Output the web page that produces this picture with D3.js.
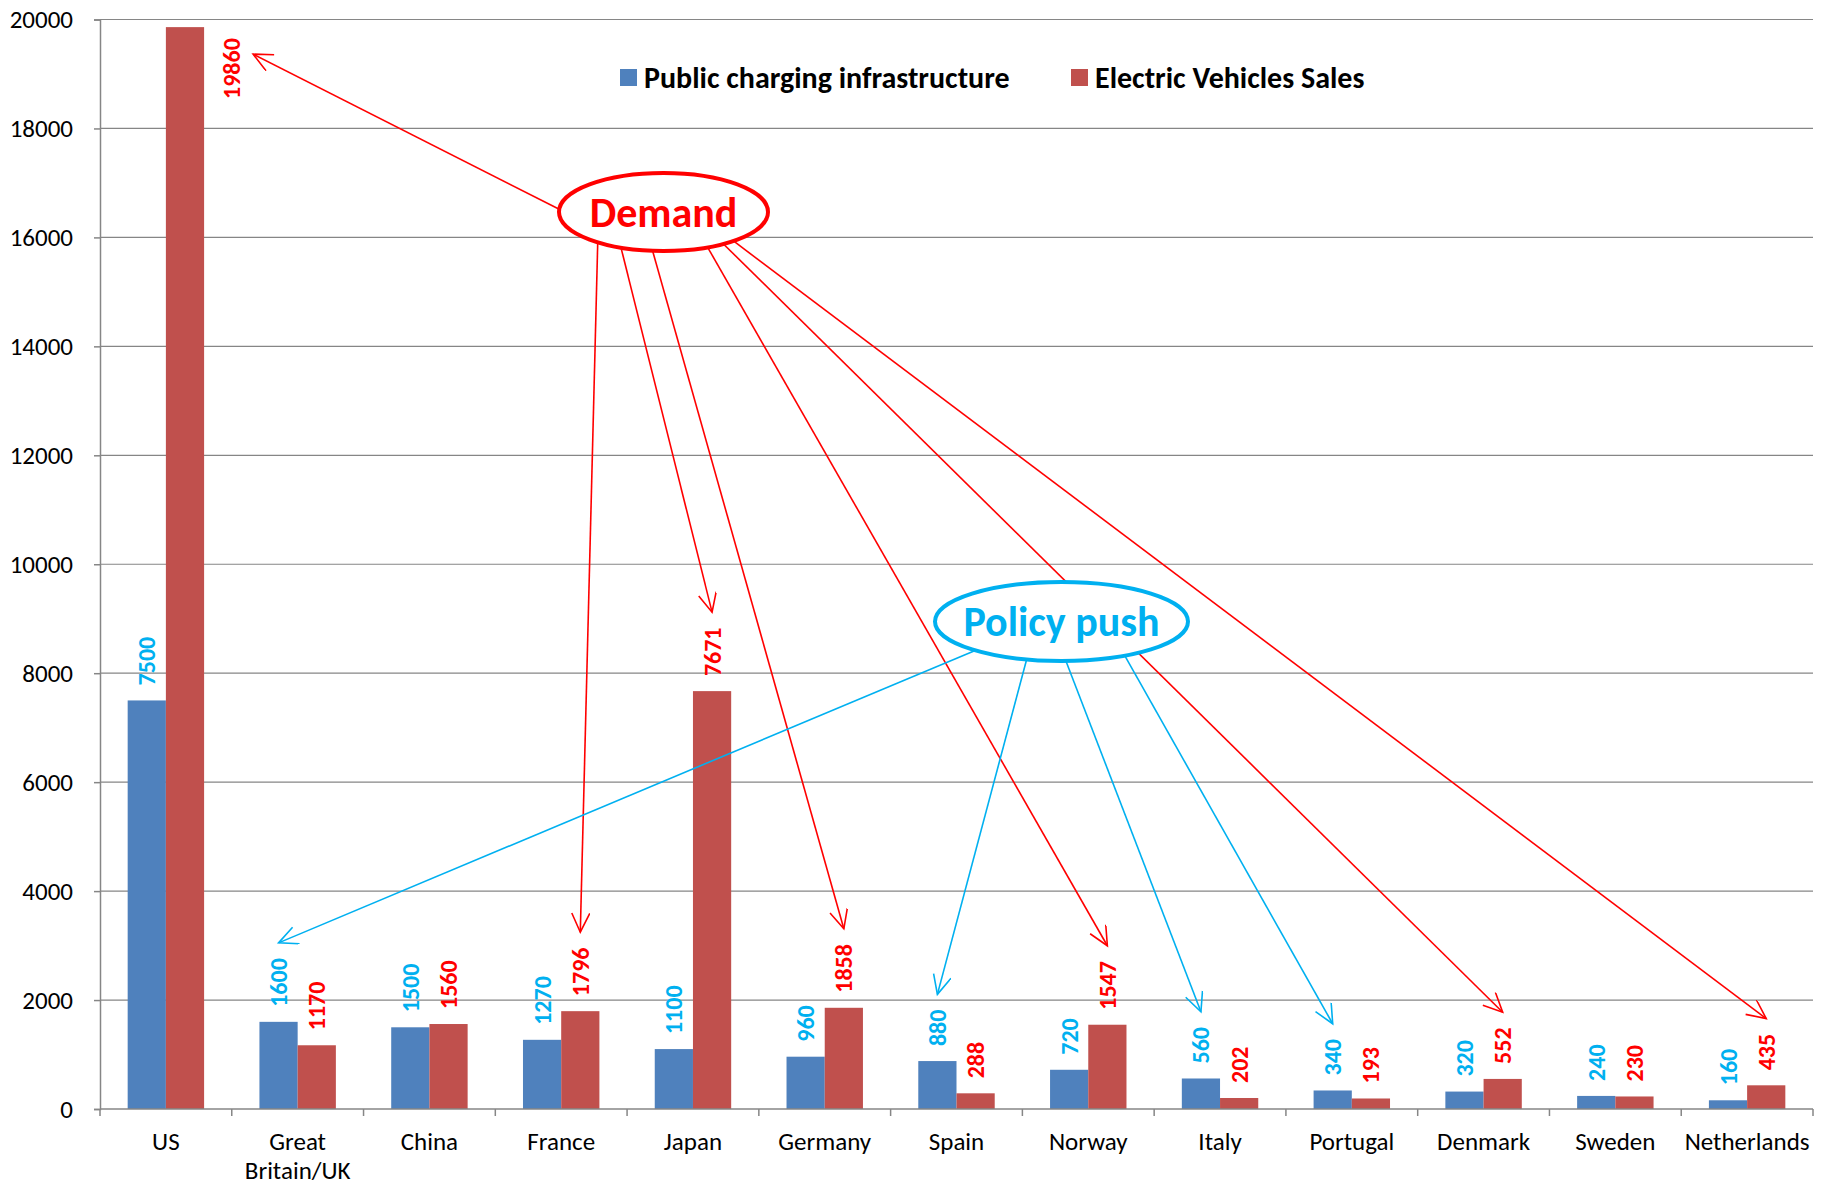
<!DOCTYPE html>
<html>
<head>
<meta charset="utf-8">
<script src="https://cdn.jsdelivr.net/npm/d3@7"></script>
<style>
  body { margin: 0; background: #fff; }
  svg { font-family: Carlito, Calibri, "Open Sans", sans-serif; }
</style>
</head>
<body>
<div id="chart"></div>
<script>
// data
const countries = ["US", "Great Britain/UK", "China", "France", "Japan", "Germany", "Spain",
  "Norway", "Italy", "Portugal", "Denmark", "Sweden", "Netherlands"];
const charging = [7500, 1600, 1500, 1270, 1100, 960, 880, 720, 560, 340, 320, 240, 160];
const evSales = [19860, 1170, 1560, 1796, 7671, 1858, 288, 1547, 202, 193, 552, 230, 435];
const seriesNames = ["Public charging infrastructure", "Electric Vehicles Sales"];
const yTicks = [0, 2000, 4000, 6000, 8000, 10000, 12000, 14000, 16000, 18000, 20000];

// callouts
const demandTargets = ["US", "France", "Japan", "Germany", "Norway", "Denmark", "Netherlands"];
const demandAngles = [184, 129, 114, 96, 65, 55, 48];
const policyTargets = ["Great Britain/UK", "Spain", "Italy", "Portugal"];
const policyAngles = [133, 106, 88, 60];

const width = 1822;
const height = 1185;
const margin = { top: 19.5, right: 9, bottom: 76, left: 100 };

const barColors = ["#4F81BD", "#C0504D"];
const labelColors = ["#00B0F0", "#FF0000"];
const gridColor = "#868686";

const svg = d3.select("#chart")
  .append("svg")
    .attr("width", width)
    .attr("height", height);

const x = d3.scaleBand()
  .domain(countries)
  .range([margin.left, width - margin.right])
  .paddingInner(0.42)
  .paddingOuter(0.21);

const x1 = d3.scaleBand()
  .domain([0, 1])
  .range([0, x.bandwidth()]);

const y = d3.scaleLinear()
  .domain([0, 20000])
  .range([height - margin.bottom, margin.top]);

// gridlines
svg.append("g")
  .selectAll("line")
  .data(yTicks.filter(d => d > 0))
  .join("line")
    .attr("x1", margin.left)
    .attr("x2", width - margin.right)
    .attr("y1", d => y(d))
    .attr("y2", d => y(d))
    .attr("stroke", gridColor)
    .attr("stroke-width", 1.2);

// y axis
const yAxis = svg.append("g")
  .attr("transform", `translate(${margin.left},0)`)
  .call(d3.axisLeft(y).tickValues(yTicks).tickFormat(d3.format("d")).tickSize(6).tickPadding(21));
yAxis.select(".domain").attr("stroke", gridColor).attr("stroke-width", 1.5);
yAxis.selectAll(".tick line").attr("stroke", gridColor).attr("stroke-width", 1.5);
yAxis.selectAll(".tick text")
  .attr("font-size", 25)
  .attr("font-family", "Carlito, Calibri, 'Open Sans', sans-serif")
  .attr("fill", "#000");

// bars
const rows = countries.map((c, i) => ({ country: c, values: [charging[i], evSales[i]] }));

const groups = svg.append("g")
  .selectAll("g")
  .data(rows)
  .join("g")
    .attr("transform", d => `translate(${x(d.country)},0)`);

groups.selectAll("rect")
  .data(d => d.values.map((v, s) => ({ v, s })))
  .join("rect")
    .attr("x", d => x1(d.s))
    .attr("y", d => y(d.v))
    .attr("width", x1.bandwidth())
    .attr("height", d => y(0) - y(d.v))
    .attr("fill", d => barColors[d.s]);

// x axis
const step = x.step();
const axisY = y(0);
svg.append("line")
  .attr("x1", margin.left)
  .attr("x2", width - margin.right)
  .attr("y1", axisY)
  .attr("y2", axisY)
  .attr("stroke", gridColor)
  .attr("stroke-width", 1.5);

svg.append("g")
  .selectAll("line")
  .data(d3.range(countries.length + 1))
  .join("line")
    .attr("x1", i => margin.left + i * step)
    .attr("x2", i => margin.left + i * step)
    .attr("y1", axisY)
    .attr("y2", axisY + 7)
    .attr("stroke", gridColor)
    .attr("stroke-width", 1.5);

const catLabels = svg.append("g")
  .selectAll("text")
  .data(countries)
  .join("text")
    .attr("x", d => x(d) + x.bandwidth() / 2)
    .attr("y", axisY + 41)
    .attr("text-anchor", "middle")
    .attr("font-size", 25)
    .attr("fill", "#000");

catLabels.each(function (d) {
  const t = d3.select(this);
  const parts = d.length > 12 ? [d.slice(0, d.indexOf(" ")), d.slice(d.indexOf(" ") + 1)] : [d];
  parts.forEach((p, k) => {
    t.append("tspan")
      .attr("x", x(d) + x.bandwidth() / 2)
      .attr("dy", k === 0 ? 0 : 29)
      .text(p);
  });
});

// value labels (rotated)
const labelGap = 15;
const labelFont = 24;
const labelPos = {}; // keyed by country + series, used by the callout arrows

rows.forEach(row => {
  row.values.forEach((v, s) => {
    const cx = x(row.country) + x1(s) + x1.bandwidth() / 2;
    const txt = String(v);
    const len = txt.length * labelFont * 0.51;
    let lx = cx;
    let ly = y(v) - labelGap;
    let anchor = "start";
    let top = ly - len;
    if (top < margin.top) {
      // no room above the bar: put it beside the bar top
      lx = x(row.country) + x1(s) + x1.bandwidth() + 27;
      ly = y(v) + 11;
      anchor = "end";
      top = ly;
    }
    labelPos[row.country + s] = { x: lx, top: top, beside: anchor === "end" };
    svg.append("text")
      .attr("transform", `translate(${lx},${ly}) rotate(-90)`)
      .attr("text-anchor", anchor)
      .attr("dominant-baseline", "central")
      .attr("font-size", labelFont)
      .attr("font-weight", "bold")
      .attr("fill", labelColors[s])
      .text(txt);
  });
});

// legend
const legend = svg.append("g").attr("transform", "translate(620,69)");
const legendX = [0, 451];
seriesNames.forEach((name, s) => {
  legend.append("rect")
    .attr("x", legendX[s])
    .attr("y", 0)
    .attr("width", 17)
    .attr("height", 17)
    .attr("fill", barColors[s]);
  legend.append("text")
    .attr("x", legendX[s] + 24)
    .attr("y", 8)
    .attr("dominant-baseline", "central")
    .attr("font-size", 30)
    .attr("font-weight", "bold")
    .attr("fill", "#000")
    .text(name);
});

// arrow markers
const defs = svg.append("defs");
labelColors.forEach((c, s) => {
  defs.append("marker")
      .attr("id", "arrow" + s)
      .attr("markerUnits", "userSpaceOnUse")
      .attr("markerWidth", 24)
      .attr("markerHeight", 20)
      .attr("refX", 20)
      .attr("refY", 9)
      .attr("orient", "auto")
    .append("path")
      .attr("d", "M1,0 L20,9 L1,18")
      .attr("fill", "none")
      .attr("stroke", c)
      .attr("stroke-width", 1.6);
});

function drawCallout (cfg) {
  const lines = svg.append("g");
  cfg.targets.forEach((country, i) => {
    const a = cfg.angles[i] * Math.PI / 180;
    const sx = cfg.cx + cfg.rx * Math.cos(a);
    const sy = cfg.cy + cfg.ry * Math.sin(a);
    const p = labelPos[country + cfg.series];
    const tx = p.beside ? p.x + 22 : p.x;
    const ty = p.beside ? p.top + 16 : p.top - 15;
    lines.append("line")
      .attr("x1", sx)
      .attr("y1", sy)
      .attr("x2", tx)
      .attr("y2", ty)
      .attr("stroke", cfg.color)
      .attr("stroke-width", 1.6)
      .attr("marker-end", `url(#arrow${cfg.series})`);
  });
  return lines;
}

const demand = { cx: 663.5, cy: 212, rx: 104.5, ry: 39, color: "#FF0000", series: 1,
  targets: demandTargets, angles: demandAngles, text: "Demand" };
const policy = { cx: 1061.5, cy: 621.5, rx: 126.5, ry: 39.5, color: "#00B0F0", series: 0,
  targets: policyTargets, angles: policyAngles, text: "Policy push" };

drawCallout(demand);
drawCallout(policy);

[demand, policy].forEach(cfg => {
  svg.append("ellipse")
    .attr("cx", cfg.cx)
    .attr("cy", cfg.cy)
    .attr("rx", cfg.rx)
    .attr("ry", cfg.ry)
    .attr("fill", "#fff")
    .attr("stroke", cfg.color)
    .attr("stroke-width", 4);
  svg.append("text")
    .attr("x", cfg.cx)
    .attr("y", cfg.cy)
    .attr("text-anchor", "middle")
    .attr("dominant-baseline", "central")
    .attr("font-size", 42)
    .attr("font-weight", "bold")
    .attr("fill", cfg.color)
    .text(cfg.text);
});
</script>
</body>
</html>
